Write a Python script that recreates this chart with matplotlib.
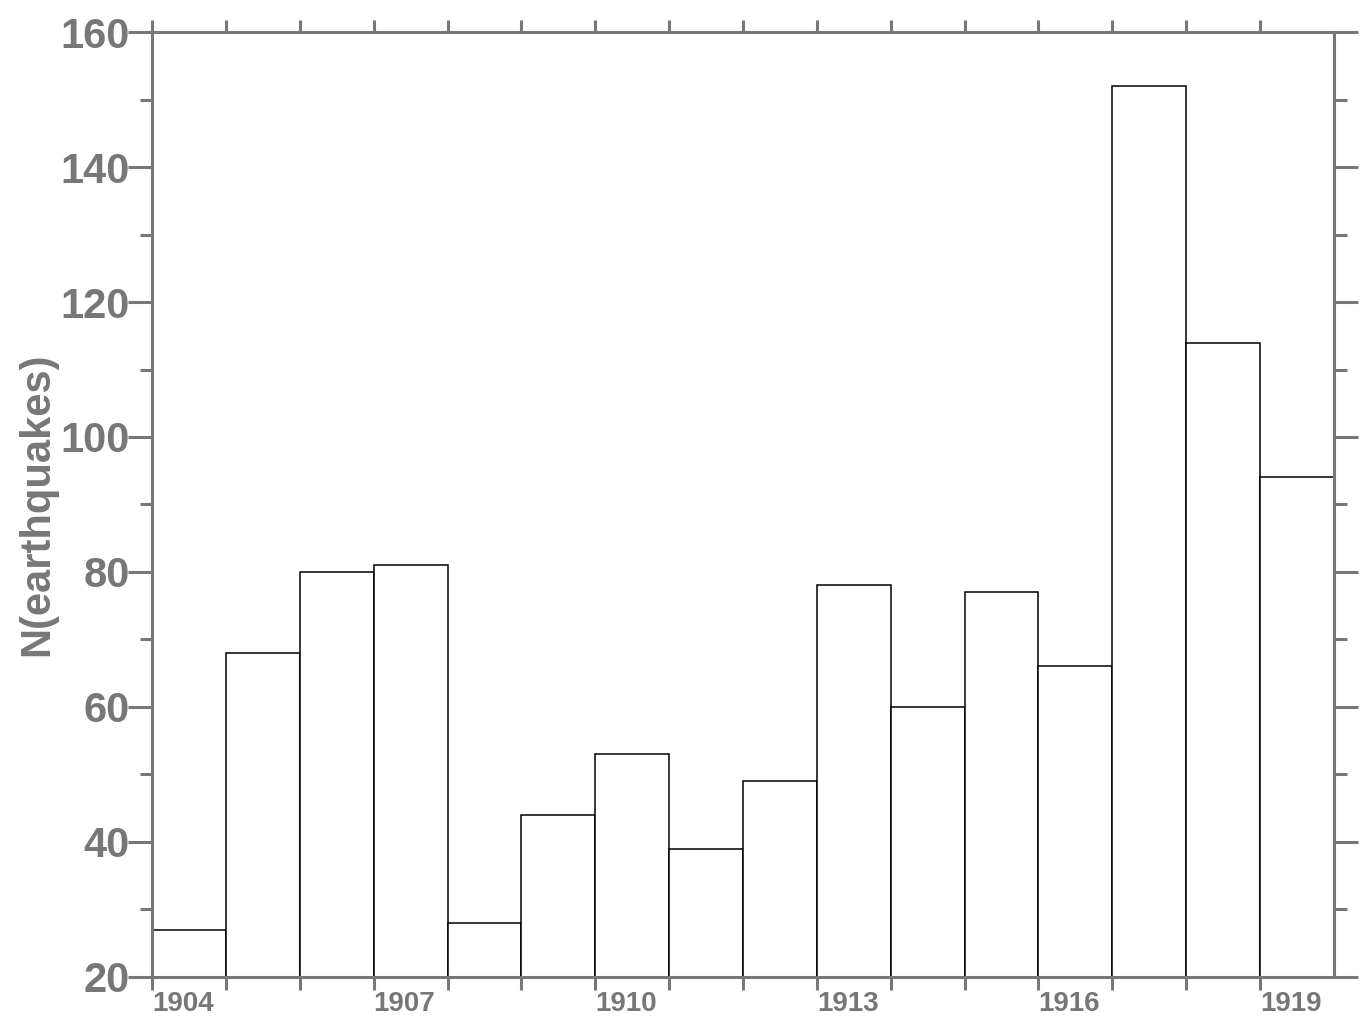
import matplotlib

matplotlib.use("Agg")
import matplotlib.pyplot as plt
import numpy as np

years = np.arange(1904, 1920)
counts = [27, 68, 80, 81, 28, 44, 53, 39, 49, 78, 60, 77, 66, 152, 114, 94]
label_years = [1904, 1907, 1910, 1913, 1916, 1919]

grey = "#777777"
plt.rcParams["font.family"] = ["Liberation Sans", "DejaVu Sans"]
plt.rcParams["font.weight"] = "bold"

fig = plt.figure(figsize=(13.7, 10.3), dpi=100)
ax = fig.add_axes([0.111, 0.0515, 0.8627, 0.9174])

ax.bar(years, counts, width=1.0, align="edge", bottom=0,
       facecolor="white", edgecolor="black", linewidth=1.1)

ax.set_xlim(1904, 1920)
ax.set_ylim(20, 160)

for side in ["left", "right", "top", "bottom"]:
    ax.spines[side].set_color(grey)
    ax.spines[side].set_linewidth(2.2)

ax.set_xticks(years)
ax.set_xticklabels([str(y) if y in label_years else "" for y in years],
                   ha="left", fontsize=20, color=grey, fontweight="bold")
ax.set_yticks(np.arange(20, 161, 20))
ax.set_yticks(np.arange(30, 160, 20), minor=True)
ax.set_yticklabels([str(v) for v in range(20, 161, 20)],
                   fontsize=30, color=grey, fontweight="bold")

ax.tick_params(axis="x", which="major", direction="out", length=9, width=2.2,
               color=grey, top=True, bottom=True, pad=1)
ax.tick_params(axis="y", which="major", direction="out", length=17, width=2.2,
               color=grey, left=True, right=True, pad=-1)
ax.tick_params(axis="y", which="minor", direction="out", length=9, width=2.2,
               color=grey, left=True, right=True)

ax.set_ylabel("N(earthquakes)", fontsize=30, color=grey, fontweight="bold",
              labelpad=2)

fig.savefig("out.png", dpi=100)
plt.close(fig)
